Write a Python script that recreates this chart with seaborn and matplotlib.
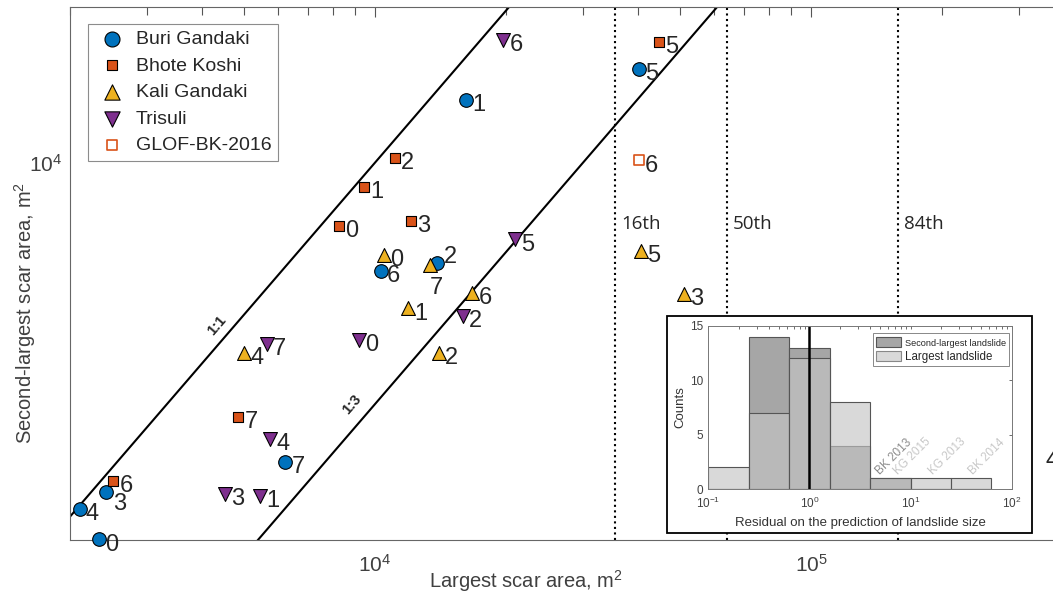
import matplotlib.pyplot as plt
import seaborn as sns
from matplotlib.patches import Patch, Rectangle
from matplotlib.ticker import LogLocator, NullFormatter, FixedLocator

# largest vs second-largest scar area (m2) per event, by river
BURI_LARGEST = [2330, 16200, 13900, 2420, 2100, 40300, 10300, 6230]
BURI_SECOND = [1800, 13300, 6320, 2230, 2070, 15300, 6110, 2560]
BURI_ID = ["0", "1", "2", "3", "4", "5", "6", "7"]

BHOTE_LARGEST = [8280, 9430, 11100, 12100, 44700, 2510, 4860]
BHOTE_SECOND = [7500, 8950, 10200, 7670, 17300, 2345, 3140]
BHOTE_ID = ["0", "1", "2", "3", "5", "6", "7"]

KALI_LARGEST = [10500, 11900, 14000, 51100, 5010, 40700, 16700, 13400]
KALI_SECOND = [6560, 5150, 4200, 5510, 4210, 6690, 5520, 6270]
KALI_ID = ["0", "1", "2", "3", "4", "5", "6", "7"]

TRISULI_LARGEST = [9200, 5450, 15900, 4520, 5750, 20900, 19700, 5640]
TRISULI_SECOND = [4470, 2190, 4970, 2210, 2840, 7050, 17500, 4390]
TRISULI_ID = ["0", "1", "2", "3", "4", "5", "6", "7"]

GLOF_LARGEST = [40200]
GLOF_SECOND = [10100]
GLOF_ID = ["6"]

RATIOS = [1, 3]
RATIO_LABELS = ["1:1", "1:3"]
PERCENTILE_AREAS = [35600, 64300, 158500]
PERCENTILE_LABELS = ["16th", "50th", "84th"]

# inset histogram (log10 bin edges) and counts
BIN_EDGES_LOG = [-1.0, -0.6, -0.2, 0.2, 0.6, 1.0, 1.4, 1.8]
SECOND_COUNTS = [0, 14, 13, 4, 1, 0, 0]
LARGEST_COUNTS = [2, 7, 12, 8, 1, 1, 1]
OUTLIER_LABELS = ["BK 2013", "KG 2015", "KG 2013", "BK 2014"]
OUTLIER_RESIDUALS = [5.2, 7.86, 17.4, 43.4]

XLIM = (2000, 3.773e5)
YLIM = (1798, 20260)

sns.set_style("white")
plt.rcParams["font.family"] = ["Liberation Sans", "DejaVu Sans"]
plt.rcParams["mathtext.default"] = "regular"

fig = plt.figure(figsize=(10.53, 5.93), dpi=100)
ax = fig.add_axes([0.066762, 0.089882, 0.94226, 0.897639])
ax.set_xscale("log")
ax.set_yscale("log")

# reference lines
for ratio in RATIOS:
    sns.lineplot(x=list(XLIM), y=[XLIM[0] / ratio, XLIM[1] / ratio],
                 color="black", linewidth=1.5, ax=ax, zorder=2)
for ratio, text, up, xl in zip(RATIOS, RATIO_LABELS, [15.3, 18.7], [4334, 8860]):
    ax.annotate(text, (xl, xl / ratio), xytext=(0, up), textcoords="offset points",
                ha="center", va="center", rotation=49.25, rotation_mode="anchor",
                fontsize=10.5, fontweight="bold")

for area, text in zip(PERCENTILE_AREAS, PERCENTILE_LABELS):
    ax.axvline(area, color="black", linestyle=":", linewidth=1.5, zorder=1)
    ax.annotate(text, (area, 7390), xytext=(4, 0), textcoords="offset points",
                ha="left", va="baseline", fontsize=13.5, family="Open Sans")

groups = [
    ("Buri Gandaki", BURI_LARGEST, BURI_SECOND, BURI_ID,
     dict(marker="o", s=96, color="#0072BD", edgecolor="black", linewidth=0.8)),
    ("Bhote Koshi", BHOTE_LARGEST, BHOTE_SECOND, BHOTE_ID,
     dict(marker="s", s=46, color="#D95319", edgecolor="black", linewidth=0.8)),
    ("Kali Gandaki", KALI_LARGEST, KALI_SECOND, KALI_ID,
     dict(marker="^", s=100, color="#EDB120", edgecolor="black", linewidth=0.8)),
    ("Trisuli", TRISULI_LARGEST, TRISULI_SECOND, TRISULI_ID,
     dict(marker="v", s=100, color="#7E2F8E", edgecolor="black", linewidth=0.8)),
    ("GLOF-BK-2016", GLOF_LARGEST, GLOF_SECOND, GLOF_ID,
     dict(marker="s", s=46, color="white", edgecolor="#D95319", linewidth=1.2)),
]

label_shift = {
    ("Buri Gandaki", "2"): (5, 0),
    ("Buri Gandaki", "3"): (4.5, -12.8),
    ("Kali Gandaki", "7"): (-0.5, -20.5),
}

for name, xs, ys, ids, style in groups:
    sns.scatterplot(x=xs, y=ys, ax=ax, label=name, zorder=3, clip_on=False, **style)
    for xv, yv, tag in zip(xs, ys, ids):
        dx, dy = label_shift.get((name, tag), (4.5, -8))
        ax.annotate(tag, (xv, yv), xytext=(dx, dy), textcoords="offset points",
                    ha="left", va="baseline", fontsize=17, annotation_clip=False)

ax.set_xlim(XLIM)
ax.set_ylim(YLIM)
ax.xaxis.set_minor_locator(LogLocator(base=10, subs=range(2, 10), numticks=20))
ax.yaxis.set_minor_locator(LogLocator(base=10, subs=range(2, 10), numticks=20))
ax.xaxis.set_minor_formatter(NullFormatter())
ax.yaxis.set_minor_formatter(NullFormatter())
ax.tick_params(which="both", direction="in", width=0.8, color="#555555",
               top=True, right=True, labelsize=15, labelcolor="#404040")
ax.tick_params(which="major", length=7.2)
ax.tick_params(which="minor", length=5.6)
ax.tick_params(axis="x", which="both", pad=10.5)
ax.tick_params(axis="y", which="both", pad=5.8)
for sp in ax.spines.values():
    sp.set_color("#666666")
    sp.set_linewidth(0.8)

ax.set_xlabel("Largest scar area, m$^\\mathdefault{2}$", fontsize=14.5, color="#404040")
ax.set_ylabel("Second-largest scar area, m$^\\mathdefault{2}$", fontsize=14.5, color="#404040")
ax.xaxis.set_label_coords(0.459, -0.0913)
ax.xaxis.label.set_va("baseline")
ax.yaxis.set_label_coords(-0.0383, 0.4259)
ax.yaxis.label.set_va("baseline")

leg = ax.legend(loc="upper left", bbox_to_anchor=(0.0183, 0.9696), borderaxespad=0,
                fontsize=14, handlelength=1.75, handletextpad=0.34, borderpad=0.35,
                labelspacing=0.46, fancybox=False, framealpha=1, edgecolor="#8c8c8c",
                markerscale=1.1, scatterpoints=1)
leg.get_frame().set_linewidth(0.8)

# stray label cut by the right edge of the figure
fig.text(1046 / 1053, (593 - 467) / 593, "4", fontsize=17, va="baseline")

# inset panel
fig.add_artist(Rectangle((0.63371, 0.10169), 0.34606, 0.36543, transform=fig.transFigure,
                         facecolor="white", edgecolor="black", linewidth=1.3, zorder=1))
ax_in = fig.add_axes([0.67265, 0.17487, 0.28813, 0.27589], zorder=2)
centers = [10 ** ((a + b) / 2) for a, b in zip(BIN_EDGES_LOG[:-1], BIN_EDGES_LOG[1:])]
sns.histplot(x=centers, weights=SECOND_COUNTS, bins=BIN_EDGES_LOG, log_scale=True,
             color="#a6a6a6", alpha=1, edgecolor="#555555", linewidth=0.8, ax=ax_in)
sns.histplot(x=centers, weights=LARGEST_COUNTS, bins=BIN_EDGES_LOG, log_scale=True,
             color="#c4c4c4", alpha=0.64, edgecolor="#555555", linewidth=0.8, ax=ax_in)
ax_in.axvline(1, color="black", linewidth=1.8)
for xv, text, col in zip(OUTLIER_RESIDUALS, OUTLIER_LABELS,
                         ["#8c8c8c", "#c8c8c8", "#c8c8c8", "#c8c8c8"]):
    ax_in.text(xv, 1.15, text, rotation=45, rotation_mode="anchor", ha="left",
               va="bottom", fontsize=8.5, color=col)

ax_in.set_xlim(0.1, 100)
ax_in.set_ylim(0, 15)
ax_in.yaxis.set_major_locator(FixedLocator([0, 5, 10, 15]))
ax_in.xaxis.set_minor_locator(LogLocator(base=10, subs=range(2, 10), numticks=20))
ax_in.xaxis.set_minor_formatter(NullFormatter())
ax_in.tick_params(which="both", direction="in", length=2.5, width=0.6, color="#555555",
                  top=True, right=True, labelsize=8.5, labelcolor="#404040")
ax_in.tick_params(axis="x", which="both", pad=5)
ax_in.tick_params(axis="y", which="both", pad=3.6)
for sp in ax_in.spines.values():
    sp.set_color("#777777")
    sp.set_linewidth(0.7)
ax_in.set_xlabel("Residual on the prediction of landslide size", fontsize=9.5, color="#333333")
ax_in.set_ylabel("Counts", fontsize=9.5, color="#333333")
ax_in.xaxis.set_label_coords(0.5, -0.224)
ax_in.xaxis.label.set_va("baseline")
ax_in.yaxis.set_label_coords(-0.083, 0.505)
ax_in.yaxis.label.set_va("baseline")

handles = [Patch(facecolor="#a6a6a6", edgecolor="#555555", linewidth=0.8),
           Patch(facecolor="#d9d9d9", edgecolor="#888888", linewidth=0.8)]
leg_in = ax_in.legend(handles, ["Second-largest landslide", "Largest landslide"],
                      loc="upper right", bbox_to_anchor=(0.992, 0.9535), borderaxespad=0,
                      fontsize=8.3, handlelength=2.1, handleheight=0.95,
                      handletextpad=0.35, borderpad=0.3, labelspacing=0.25,
                      fancybox=False, framealpha=1, edgecolor="#888888")
leg_in.get_texts()[0].set_fontsize(6.6)
leg_in.get_frame().set_linewidth(0.7)

fig.savefig("out.png", dpi=100)
